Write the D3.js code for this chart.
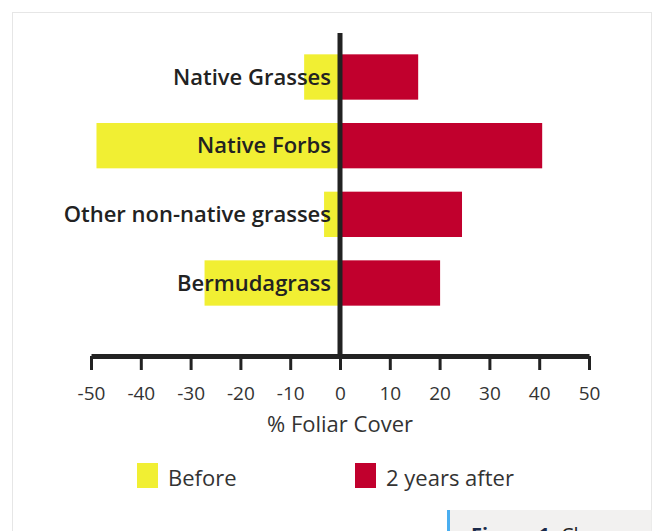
<!DOCTYPE html>
<html>
<head>
<meta charset="utf-8">
<script src="https://cdn.jsdelivr.net/npm/d3@7"></script>
<style>
  body { margin: 0; background: #fff; font-family: "Open Sans", sans-serif; }
  svg { display: block; }
  .axis text { font-family: "Open Sans", sans-serif; font-size: 19px; fill: #333; }
</style>
</head>
<body>
<div id="chart"></div>
<script>
// data
var categories = ["Native Grasses", "Native Forbs", "Other non-native grasses", "Bermudagrass"];
var before = [-7.2, -48.9, -3.2, -27.2];
var after = [15.7, 40.6, 24.5, 20.1];
var xTicks = [-50, -40, -30, -20, -10, 0, 10, 20, 30, 40, 50];
var seriesNames = ["Before", "2 years after"];
var seriesColors = ["#f1ef33", "#c1002d"];
var axisTitle = "% Foliar Cover";
var captionBold = "Figure 1.";
var captionText = " Change";

var W = 656, H = 531;

var svg = d3.select("#chart")
  .append("svg")
    .attr("width", W)
    .attr("height", H);

// card frame + caption box
svg.append("rect")
  .attr("x", 12.5).attr("y", 12.5)
  .attr("width", 639).attr("height", 540)
  .attr("fill", "#fff")
  .attr("stroke", "#e6e6e6");

svg.append("rect")
  .attr("x", 447).attr("y", 510)
  .attr("width", 204.5).attr("height", 30)
  .attr("fill", "#f2f1f0");
svg.append("rect")
  .attr("x", 447).attr("y", 510)
  .attr("width", 3).attr("height", 30)
  .attr("fill", "#4aaef0");

var cap = svg.append("text")
  .attr("x", 471).attr("y", 542)
  .style("font-size", "20px")
  .style("fill", "#222");
cap.append("tspan").style("font-weight", 700).style("fill", "#1b2a4a").text(captionBold);
cap.append("tspan").text(captionText);

// scales
var x = d3.scaleLinear().domain([-50, 50]).range([91, 589]);
var y = d3.scaleBand()
  .domain(categories)
  .range([20, 340])
  .paddingInner(0.34)
  .paddingOuter(0.5);

var axisY = 356;

// bars
var rows = categories.map(function(c, i) { return {cat: c, b: before[i], a: after[i]}; });

svg.selectAll(".bar-before")
  .data(rows)
  .enter().append("rect")
    .attr("class", "bar-before")
    .attr("x", function(d) { return x(d.b); })
    .attr("y", function(d) { return y(d.cat); })
    .attr("width", function(d) { return x(0) - x(d.b); })
    .attr("height", y.bandwidth())
    .attr("fill", seriesColors[0]);

svg.selectAll(".bar-after")
  .data(rows)
  .enter().append("rect")
    .attr("class", "bar-after")
    .attr("x", x(0))
    .attr("y", function(d) { return y(d.cat); })
    .attr("width", function(d) { return x(d.a) - x(0); })
    .attr("height", y.bandwidth())
    .attr("fill", seriesColors[1]);

// category labels
svg.selectAll(".cat-label")
  .data(categories)
  .enter().append("text")
    .attr("class", "cat-label")
    .attr("x", 331)
    .attr("y", function(d) { return y(d) + y.bandwidth() / 2; })
    .attr("dy", "0.35em")
    .attr("text-anchor", "end")
    .style("font-size", "22px")
    .style("font-weight", 600)
    .style("fill", "#222")
    .text(function(d) { return d; });

// zero line
svg.append("line")
  .attr("x1", x(0)).attr("x2", x(0))
  .attr("y1", 33).attr("y2", axisY)
  .attr("stroke", "#222")
  .attr("stroke-width", 5);

// x axis (plain hyphen for negatives)
var xAxis = d3.axisBottom(x)
  .tickValues(xTicks)
  .tickFormat(function(d) { return String(d); })
  .tickSizeInner(14)
  .tickSizeOuter(0)
  .tickPadding(17);

var gx = svg.append("g")
  .attr("class", "axis")
  .attr("transform", "translate(0," + axisY + ")")
  .call(xAxis);
gx.select(".domain").attr("stroke", "#222").attr("stroke-width", 5);
gx.selectAll(".tick line").attr("stroke", "#222").attr("stroke-width", 3);

svg.append("text")
  .attr("x", x(0))
  .attr("y", 432)
  .attr("text-anchor", "middle")
  .style("font-size", "22px")
  .style("fill", "#333")
  .text(axisTitle);

// legend
var legendX = [137, 355];
var lg = svg.selectAll(".legend")
  .data(seriesNames)
  .enter().append("g")
    .attr("class", "legend")
    .attr("transform", function(d, i) { return "translate(" + legendX[i] + ",463)"; });
lg.append("rect")
  .attr("width", 21).attr("height", 25)
  .attr("fill", function(d, i) { return seriesColors[i]; });
lg.append("text")
  .attr("x", 31).attr("y", 23)
  .style("font-size", "22px")
  .style("fill", "#333")
  .text(function(d) { return d; });
</script>
</body>
</html>
